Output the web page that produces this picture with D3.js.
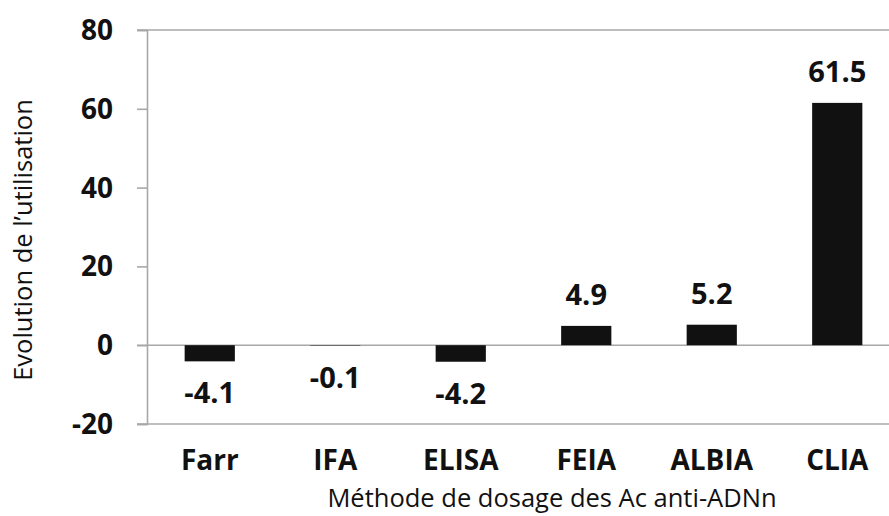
<!DOCTYPE html>
<html>
<head>
<meta charset="utf-8">
<script src="https://cdn.jsdelivr.net/npm/d3@7"></script>
<style>
  body { margin: 0; background: #fff; }
  svg { display: block; }
</style>
</head>
<body>
<div id="chart"></div>
<script>
const categories = ['Farr', 'IFA', 'ELISA', 'FEIA', 'ALBIA', 'CLIA'];
const values = [-4.1, -0.1, -4.2, 4.9, 5.2, 61.5];
const yTicks = [-20, 0, 20, 40, 60, 80];
const gridValues = [80, 0, -20];

const width = 889;
const height = 516;
const font = '"Open Sans", "Liberation Sans", sans-serif';
const lineColor = '#a8a8a8';

const svg = d3.select('#chart').append('svg')
  .attr('width', width)
  .attr('height', height);

const x = d3.scaleBand()
  .domain(categories)
  .range([147, 900])
  .paddingInner(0.6)
  .paddingOuter(0.3);

const y = d3.scaleLinear()
  .domain([-20, 80])
  .range([424, 30]);

// horizontal lines at the top, zero and bottom
svg.append('g')
  .selectAll('line')
  .data(gridValues)
  .join('line')
  .attr('x1', 137)
  .attr('x2', width)
  .attr('y1', d => y(d))
  .attr('y2', d => y(d))
  .attr('stroke', lineColor)
  .attr('stroke-width', 1.6);

const yAxis = svg.append('g')
  .attr('transform', 'translate(147,0)')
  .call(d3.axisLeft(y).tickValues(yTicks).tickFormat(d => String(d)).tickSize(10).tickPadding(24));

yAxis.select('.domain').attr('stroke', lineColor).attr('stroke-width', 1.6);
yAxis.selectAll('.tick line').attr('stroke', lineColor).attr('stroke-width', 1.6);
yAxis.selectAll('.tick text')
  .attr('fill', '#111')
  .attr('dy', '0.34em')
  .style('font-family', font)
  .style('font-weight', '700')
  .style('font-size', '28px');

svg.append('g')
  .selectAll('rect')
  .data(values)
  .join('rect')
  .attr('x', (d, i) => x(categories[i]))
  .attr('width', x.bandwidth())
  .attr('y', d => y(Math.max(0, d)))
  .attr('height', d => Math.abs(y(d) - y(0)))
  .attr('fill', '#111');

svg.append('g')
  .selectAll('text')
  .data(values)
  .join('text')
  .attr('x', (d, i) => x(categories[i]) + x.bandwidth() / 2)
  .attr('y', d => d >= 0 ? y(d) - 21 : y(d) + 42)
  .attr('text-anchor', 'middle')
  .attr('fill', '#111')
  .style('font-family', font)
  .style('font-weight', '700')
  .style('font-size', '29px')
  .text(d => d.toFixed(1));

svg.append('g')
  .selectAll('text')
  .data(categories)
  .join('text')
  .attr('x', d => x(d) + x.bandwidth() / 2)
  .attr('y', 470)
  .attr('text-anchor', 'middle')
  .attr('fill', '#111')
  .style('font-family', font)
  .style('font-weight', '700')
  .style('font-size', '28px')
  .text(d => d);

svg.append('text')
  .attr('x', 552)
  .attr('y', 507)
  .attr('text-anchor', 'middle')
  .attr('fill', '#111')
  .style('font-family', font)
  .style('font-size', '25.5px')
  .text('Méthode de dosage des Ac anti-ADNn');

svg.append('text')
  .attr('transform', 'translate(32,240) rotate(-90)')
  .attr('text-anchor', 'middle')
  .attr('fill', '#111')
  .style('font-family', font)
  .style('font-size', '25.5px')
  .text('Evolution de l’utilisation');
</script>
</body>
</html>
